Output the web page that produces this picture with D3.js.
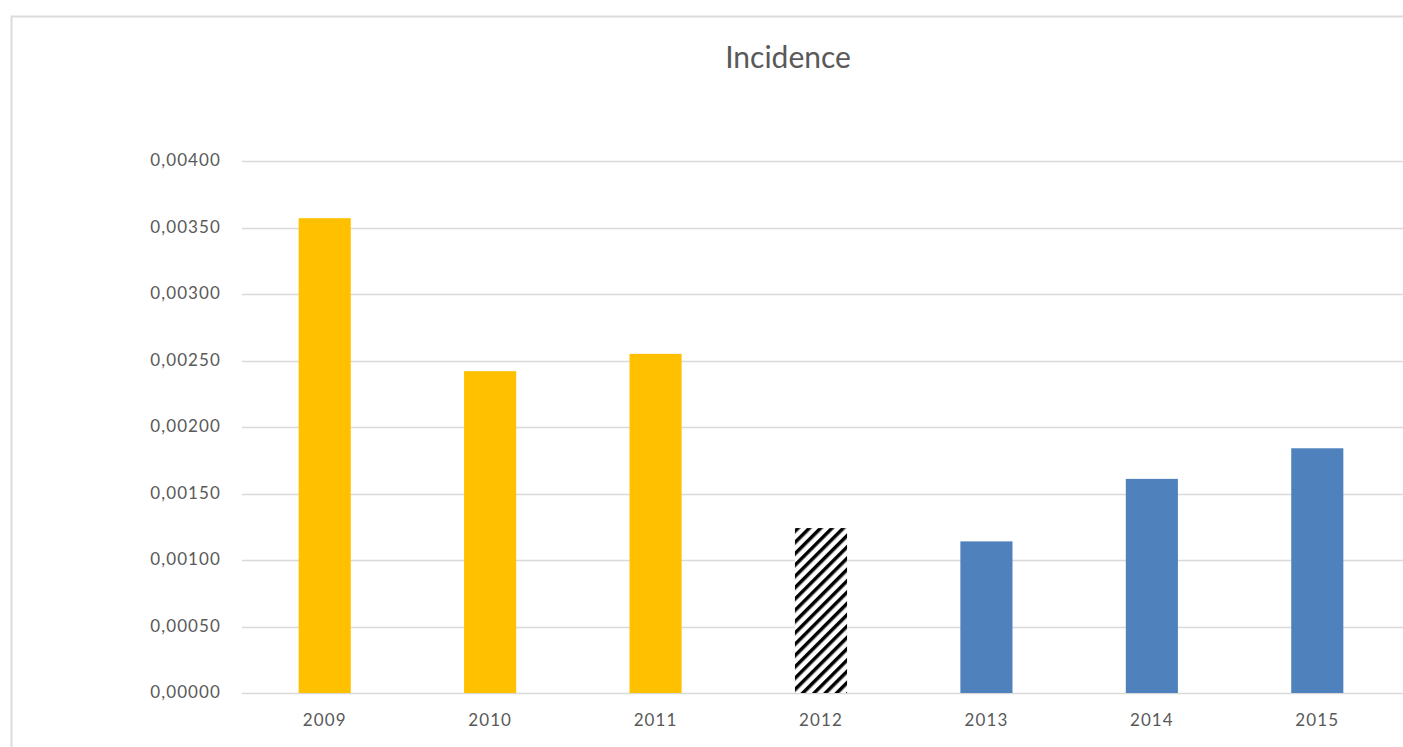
<!DOCTYPE html>
<html>
<head>
<meta charset="utf-8">
<script src="https://cdn.jsdelivr.net/npm/d3@7"></script>
<style>
  body { margin: 0; background: #fff; }
  text { font-family: Lato, "Open Sans", sans-serif; fill: #595959; }
</style>
</head>
<body>
<script>
var years = ["2009", "2010", "2011", "2012", "2013", "2014", "2015"];
var incidence = [0.00357, 0.00242, 0.00255, 0.00124, 0.00114, 0.00161, 0.00184];
var barKind = ["past", "past", "past", "hatched", "new", "new", "new"];
var yTicks = [0, 0.0005, 0.001, 0.0015, 0.002, 0.0025, 0.003, 0.0035, 0.004];

var width = 1403, height = 747;
var plotLeft = 242, plotRight = 1400, plotTop = 161, plotBottom = 693;

var svg = d3.select("body")
  .append("svg")
  .attr("width", width)
  .attr("height", height);

// stripes for the 2012 bar
var pat = svg.append("defs")
  .append("pattern")
  .attr("id", "hatch")
  .attr("patternUnits", "userSpaceOnUse")
  .attr("width", 8)
  .attr("height", 8)
  .attr("patternTransform", "rotate(45)");
pat.append("rect").attr("width", 8).attr("height", 8).attr("fill", "#fff");
pat.append("line")
  .attr("x1", 0).attr("y1", 0).attr("x2", 0).attr("y2", 8)
  .attr("stroke", "#000")
  .attr("stroke-width", 7);

// chart frame (cut off at right/bottom)
svg.append("path")
  .attr("d", "M11.5," + height + " V16.5 H" + width)
  .attr("fill", "none")
  .attr("stroke", "#dcdcdc")
  .attr("stroke-width", 2);

var x = d3.scaleBand()
  .domain(years)
  .range([plotLeft, plotRight])
  .paddingInner(0.685)
  .paddingOuter(0.3425);

var y = d3.scaleLinear()
  .domain([0, 0.004])
  .range([plotBottom, plotTop]);

// gridlines
svg.append("g")
  .selectAll("line")
  .data(yTicks)
  .enter()
  .append("line")
  .attr("x1", plotLeft)
  .attr("x2", width)
  .attr("y1", d => Math.round(y(d)) + 0.5)
  .attr("y2", d => Math.round(y(d)) + 0.5)
  .attr("stroke", "#d9d9d9")
  .attr("stroke-width", 1.3);

// y labels
svg.append("g")
  .selectAll("text")
  .data(yTicks)
  .enter()
  .append("text")
  .attr("x", 221)
  .attr("y", d => y(d) + 5)
  .attr("text-anchor", "end")
  .attr("font-size", 17)
  .attr("letter-spacing", 1.1)
  .text(d => d3.format(".5f")(d).replace(".", ","));

var fill = {past: "#ffc000", hatched: "url(#hatch)", new: "#4f81bd"};

svg.append("g")
  .selectAll("rect")
  .data(years)
  .enter()
  .append("rect")
  .attr("x", d => x(d))
  .attr("width", x.bandwidth())
  .attr("y", (d, i) => y(incidence[i]))
  .attr("height", (d, i) => y(0) - y(incidence[i]))
  .attr("fill", (d, i) => fill[barKind[i]]);

// x labels
svg.append("g")
  .selectAll("text")
  .data(years)
  .enter()
  .append("text")
  .attr("x", d => x(d) + x.bandwidth() / 2)
  .attr("y", 726)
  .attr("text-anchor", "middle")
  .attr("font-size", 17)
  .attr("letter-spacing", 1.1)
  .text(d => d);

svg.append("text")
  .attr("x", 788)
  .attr("y", 68)
  .attr("text-anchor", "middle")
  .attr("font-size", 30)
  .text("Incidence");
</script>
</body>
</html>
